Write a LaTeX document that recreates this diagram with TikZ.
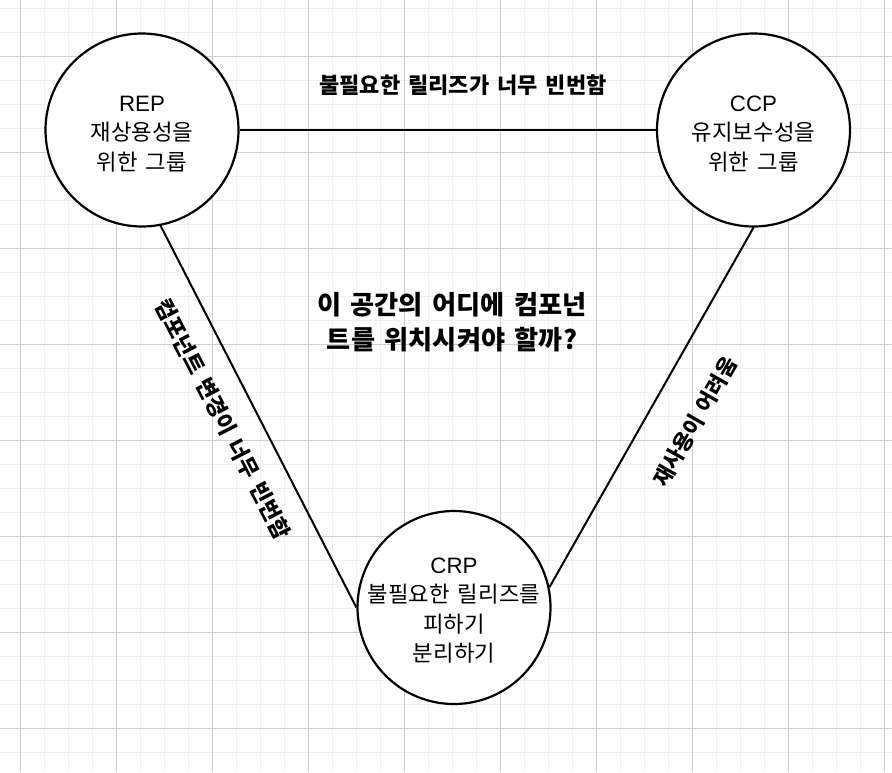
\documentclass[tikz,border=0pt]{standalone}
\usepackage{fontspec}
\setmainfont{Noto Sans CJK KR}[WordSpace=1.6]
\newfontfamily\latinfont{Liberation Sans}
\tikzset{
  gridminor/.style={draw=black!6, line width=1pt},
  gridmajor/.style={draw=black!19, line width=1pt},
  circ/.style={circle, draw=black, fill=white, line width=2.2pt, minimum size=193pt, inner sep=0pt},
  circtext/.style={align=center, inner sep=0pt, font=\fontsize{22.3}{29.5}\selectfont},
  conn/.style={draw=black, line width=2pt},
  edgelabel/.style={font=\bfseries\fontsize{22}{26}\selectfont, inner sep=0pt},
  centerlabel/.style={font=\bfseries\fontsize{26.2}{35}\selectfont, align=center, inner sep=0pt}
}
\begin{document}
\begin{tikzpicture}[x=1pt, y=-1pt]
\useasboundingbox (0,0) rectangle (892,772);
\foreach \x in {20,44,...,892} \draw[gridminor] (\x,0) -- (\x,772);
\foreach \y in {8,32,...,772} \draw[gridminor] (0,\y) -- (892,\y);
\foreach \x in {20,116,...,892} \draw[gridmajor] (\x,0) -- (\x,772);
\foreach \y in {56,152,...,772} \draw[gridmajor] (0,\y) -- (892,\y);

\node[circ] (rep) at (142,130) {};
\node[circ] (ccp) at (753.5,130) {};
\node[circ] (crp) at (454,607.5) {};
\node[circtext] (reptext) at ([yshift=-4pt]rep.center) {{\latinfont REP}\\재상용성을\\위한 그룹};
\node[circtext] (ccptext) at ([yshift=-4pt]ccp.center) {{\latinfont CCP}\\유지보수성을\\위한 그룹};
\node[circtext] (crptext) at ([yshift=-3pt]crp.center) {{\latinfont CRP}\\불필요한 릴리즈를\\피하기\\분리하기};

\draw[conn] (rep.east) -- (ccp.west);
\draw[conn] (rep.-79) -- (crp.west);
\draw[conn] (ccp.-90) -- (crp.12);

\node[edgelabel] (toplabel) at (463,85) {불필요한 릴리즈가 너무 빈번함};
\node[edgelabel, rotate=-62.7] (leftlabel) at (223,419) {컴포넌트 변경이 너무 빈번함};
\node[edgelabel, rotate=60.4, font=\bfseries\fontsize{21.3}{26}\selectfont] (rightlabel) at (695,422) {재사용이 어려움};
\node[centerlabel] (question) at (452,322) {이 공간의 어디에 컴포넌\\트를 위치시켜야 할까?};
\end{tikzpicture}
\end{document}
